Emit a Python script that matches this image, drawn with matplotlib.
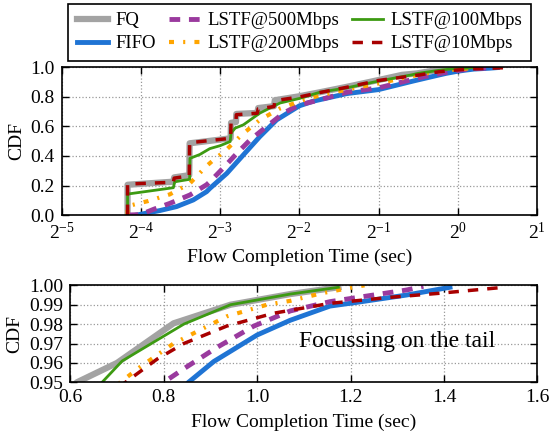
import numpy as np
import matplotlib
matplotlib.use('Agg')
import matplotlib.pyplot as plt
from matplotlib.ticker import NullLocator, FixedLocator, FormatStrFormatter

plt.rcParams['font.family'] = 'serif'
plt.rcParams['font.serif'] = ['Liberation Serif', 'DejaVu Serif']
plt.rcParams['mathtext.fontset'] = 'custom'
plt.rcParams['mathtext.rm'] = 'Liberation Serif'
plt.rcParams['font.size'] = 14

# flow completion times (sec) and CDF values
fq_t = [0.0556, 0.0556, 0.0830, 0.0836, 0.0954, 0.0957, 0.137, 0.1375, 0.1436, 0.144,
        0.173, 0.1744, 0.2003, 0.2017, 0.25, 0.299, 0.379, 0.5,
        0.614, 0.70, 0.821, 0.943, 1.071, 1.174]
fq_cdf = [0.0, 0.205, 0.226, 0.255, 0.27, 0.486, 0.52, 0.625, 0.63, 0.685,
          0.692, 0.725, 0.738, 0.778, 0.805, 0.832, 0.869, 0.915,
          0.95, 0.96, 0.9804, 0.990, 0.9955, 0.999]

fifo_t = [0.0603, 0.0737, 0.0854, 0.0988, 0.111, 0.1142, 0.1325, 0.1531, 0.177, 0.205,
          0.25, 0.283, 0.379, 0.5, 0.677,
          0.853, 0.907, 1.0, 1.071, 1.156, 1.213, 1.32, 1.413]
fifo_cdf = [0.0, 0.03, 0.057, 0.102, 0.158, 0.18, 0.282, 0.407, 0.532, 0.645,
            0.74, 0.772, 0.823, 0.85, 0.908,
            0.95, 0.9607, 0.9744, 0.982, 0.9893, 0.9912, 0.995, 0.999]

l500_t = [0.0556, 0.0623, 0.0699, 0.0805, 0.096, 0.111, 0.1142, 0.1287, 0.1447, 0.1625,
          0.188, 0.2176, 0.25, 0.291, 0.379, 0.5, 0.677,
          0.8, 0.843, 0.914, 0.993, 1.071, 1.156, 1.249, 1.32, 1.356]
l500_cdf = [0.0, 0.003, 0.039, 0.079, 0.136, 0.205, 0.225, 0.32, 0.418, 0.509,
            0.60, 0.691, 0.747, 0.775, 0.832, 0.862, 0.92,
            0.95, 0.957, 0.968, 0.979, 0.9868, 0.9916, 0.995, 0.9976, 0.9995]

l200_t = [0.0556, 0.0556, 0.0667, 0.0805, 0.096, 0.111, 0.1199, 0.1305, 0.1509, 0.177,
          0.211, 0.259, 0.299, 0.379, 0.5,
          0.707, 0.75, 0.821, 0.878, 0.935, 1.021, 1.071, 1.14, 1.184, 1.23]
l200_cdf = [0.0, 0.06, 0.095, 0.14, 0.215, 0.332, 0.384, 0.434, 0.543, 0.645,
            0.722, 0.78, 0.81, 0.85, 0.892,
            0.95, 0.958, 0.970, 0.977, 0.984, 0.990, 0.992, 0.996, 0.998, 1.0]

l100_t = [0.0556, 0.0556, 0.0830, 0.0840, 0.0957, 0.0960, 0.1046, 0.1142, 0.125, 0.1365,
          0.1375, 0.1426, 0.1531, 0.177, 0.211, 0.25, 0.299, 0.379, 0.5,
          0.668, 0.711, 0.843, 0.943, 1.071, 1.174]
l100_cdf = [0.0, 0.142, 0.185, 0.225, 0.242, 0.384, 0.41, 0.45, 0.47, 0.498,
            0.555, 0.589, 0.611, 0.691, 0.759, 0.79, 0.832, 0.862, 0.908,
            0.95, 0.961, 0.980, 0.990, 0.9955, 0.999]

l10_t = [0.0556, 0.0556, 0.0830, 0.0836, 0.0954, 0.0957, 0.137, 0.1375, 0.1436, 0.144,
         0.173, 0.1744, 0.2003, 0.2017, 0.25, 0.299, 0.379, 0.5,
         0.718, 0.786, 0.843, 0.935, 1.035, 1.156, 1.284, 1.39, 1.52]
l10_cdf = [0.0, 0.21, 0.222, 0.25, 0.265, 0.49, 0.52, 0.632, 0.636, 0.68,
           0.69, 0.72, 0.735, 0.775, 0.80, 0.83, 0.866, 0.912,
           0.95, 0.962, 0.970, 0.979, 0.9856, 0.9907, 0.9938, 0.9959, 0.9988]

series = [
    ('FQ', fq_t, fq_cdf, dict(color='#a3a3a3', lw=4.5, ls='-')),
    ('FIFO', fifo_t, fifo_cdf, dict(color='#1f74d4', lw=3.5, ls='-')),
    ('LSTF@500Mbps', l500_t, l500_cdf, dict(color='#9a3a9e', lw=3.5, dashes=(2.2, 1.8))),
    ('LSTF@200Mbps', l200_t, l200_cdf, dict(color='#ffa500', lw=3.0, dashes=(1.2, 2.2, 0.5, 2.2))),
    ('LSTF@100Mbps', l100_t, l100_cdf, dict(color='#3c9a12', lw=2.0, ls='-')),
    ('LSTF@10Mbps', l10_t, l10_cdf, dict(color='#a80000', lw=2.5, dashes=(3.0, 2.6))),
]

fig = plt.figure(figsize=(5.52, 4.32), dpi=100)
ax1 = fig.add_axes([0.1118, 0.5023, 0.861, 0.3415])
ax2 = fig.add_axes([0.1274, 0.1150, 0.846, 0.2245])

for name, t, c, st in series:
    ax1.plot(t, c, label=name, **st)
    ax2.plot(t, c, **st)

ax1.set_xscale('log', base=2)
ax1.set_xlim(2 ** -5, 2 ** 1)
ax1.set_ylim(0, 1)
ax1.xaxis.set_minor_locator(NullLocator())
ax1.set_yticks(np.arange(0, 1.01, 0.2))
ax1.yaxis.set_major_formatter(FormatStrFormatter('%.1f'))
ax1.set_xlabel('Flow Completion Time (sec)')
ax1.set_ylabel('CDF')

ax2.set_xlim(0.6, 1.6)
ax2.set_ylim(0.95, 1.0)
ax2.xaxis.set_major_locator(FixedLocator(np.arange(0.6, 1.61, 0.2)))
ax2.xaxis.set_major_formatter(FormatStrFormatter('%.1f'))
ax2.yaxis.set_major_locator(FixedLocator(np.arange(0.95, 1.001, 0.01)))
ax2.yaxis.set_major_formatter(FormatStrFormatter('%.2f'))
ax2.set_xlabel('Flow Completion Time (sec)', labelpad=5)
ax2.set_ylabel('CDF')
ax2.text(1.09, 0.971, 'Focussing on the tail', fontsize=17, ha='left', va='center')

for ax in (ax1, ax2):
    ax.grid(True, ls=':', color='#999999', lw=0.9)
    ax.tick_params(direction='in', top=True, right=True, length=5, width=1, pad=5)
    for sp in ax.spines.values():
        sp.set_linewidth(1.2)

leg = fig.legend(loc='upper center', bbox_to_anchor=(0.5426, 0.991), ncol=3,
                 fancybox=False, edgecolor='black', framealpha=1, borderaxespad=0,
                 handlelength=1.65, columnspacing=0.7, handletextpad=0.4,
                 labelspacing=0.3, borderpad=0.45, fontsize=13.5)
leg.get_frame().set_linewidth(1.2)

fig.savefig('out.png', dpi=100)
